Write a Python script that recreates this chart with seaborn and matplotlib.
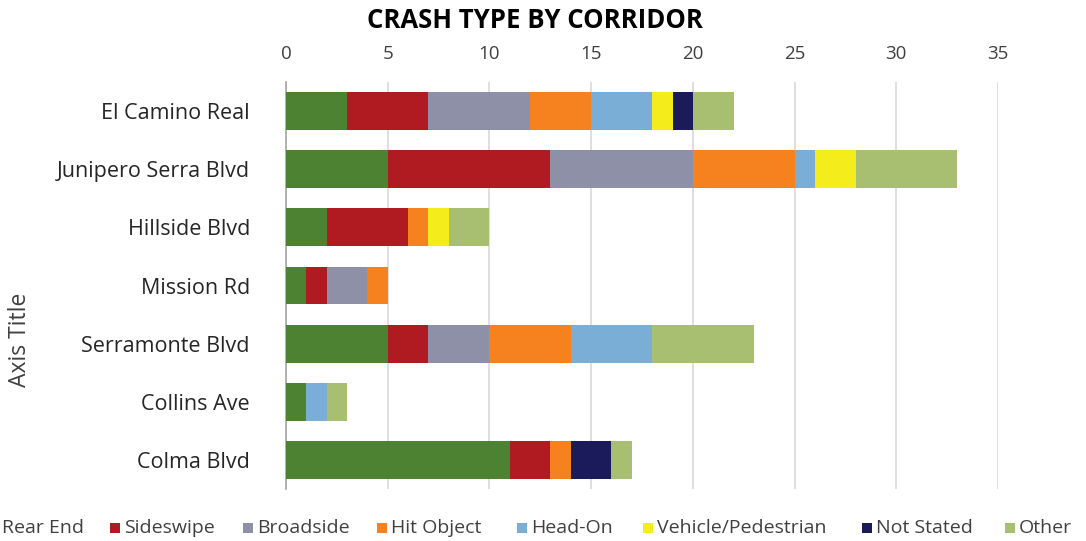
import matplotlib
matplotlib.use("Agg")
import matplotlib.pyplot as plt
from matplotlib.patches import Rectangle
import numpy as np
import pandas as pd
import seaborn as sns

corridors = ["El Camino Real", "Junipero Serra Blvd", "Hillside Blvd", "Mission Rd",
             "Serramonte Blvd", "Collins Ave", "Colma Blvd"]
crash_types = ["Rear End", "Sideswipe", "Broadside", "Hit Object", "Head-On",
               "Vehicle/Pedestrian", "Not Stated", "Other"]

rear_end = [3, 5, 2, 1, 5, 1, 11]
sideswipe = [4, 8, 4, 1, 2, 0, 2]
broadside = [5, 7, 0, 2, 3, 0, 0]
hit_object = [3, 5, 1, 1, 4, 0, 1]
head_on = [3, 1, 0, 0, 4, 1, 0]
vehicle_ped = [1, 2, 1, 0, 0, 0, 0]
not_stated = [1, 0, 0, 0, 0, 0, 2]
other = [2, 5, 2, 0, 5, 1, 1]

colors = ["#4C8232", "#B01B22", "#8E90A8", "#F5821F", "#7AAED6", "#F5EC1C", "#1B1B5C", "#A8BF72"]

series = [rear_end, sideswipe, broadside, hit_object, head_on, vehicle_ped, not_stated, other]
cum = np.cumsum(np.array(series), axis=0)

sns.set_theme(style="white")
plt.rcParams["font.family"] = ["Open Sans", "DejaVu Sans"]

W, H = 1086, 541
fig = plt.figure(figsize=(W / 100, H / 100), dpi=100)
ax = fig.add_axes([286 / W, 52 / H, 712 / W, 407 / H])

# stacked bars: draw running totals from the outermost segment inward
for i in reversed(range(len(crash_types))):
    df = pd.DataFrame({"corridor": corridors, "total": cum[i]})
    sns.barplot(data=df, x="total", y="corridor", orient="y", color=colors[i],
                saturation=1, width=0.65, linewidth=0, ax=ax, zorder=3)

ax.set_xlim(0, 35)
ax.set_xticks(range(0, 36, 5))
ax.xaxis.tick_top()
ax.tick_params(axis="x", length=0, pad=14, labelsize=13.5, labelcolor="#404040")
ax.tick_params(axis="y", length=0, pad=26, labelsize=15.5, labelcolor="#262626")
ax.grid(axis="x", color="#D9D9D9", linewidth=1.2, zorder=0)
ax.set_axisbelow(True)
for side in ["top", "right", "bottom"]:
    ax.spines[side].set_visible(False)
ax.spines["left"].set_color("#A6A6A6")
ax.spines["left"].set_linewidth(1.2)
ax.set_xlabel("")
ax.set_ylabel("Axis Title", fontsize=16.5, color="#404040")
ax.yaxis.set_label_coords(-254 / 712, (489 - 340) / 407)

fig.text(535 / W, 1 - 21 / H, "CRASH TYPE BY CORRIDOR", ha="center", va="center",
         fontsize=18.5, fontweight="bold", color="#000000")

# legend row along the bottom: marker left edges in pixels
marker_x = [-12, 110, 243, 377, 517, 643, 862, 1005]
legend_y = 528
for x0, c, name in zip(marker_x, colors, crash_types):
    fig.patches.append(Rectangle(((x0) / W, (H - legend_y - 5) / H), 10 / W, 10 / H,
                                 transform=fig.transFigure, facecolor=c,
                                 edgecolor="none", figure=fig))
    fig.text((x0 + 14) / W, 1 - legend_y / H, name, ha="left", va="center",
             fontsize=14, color="#404040")

fig.savefig("out.png", dpi=100)
